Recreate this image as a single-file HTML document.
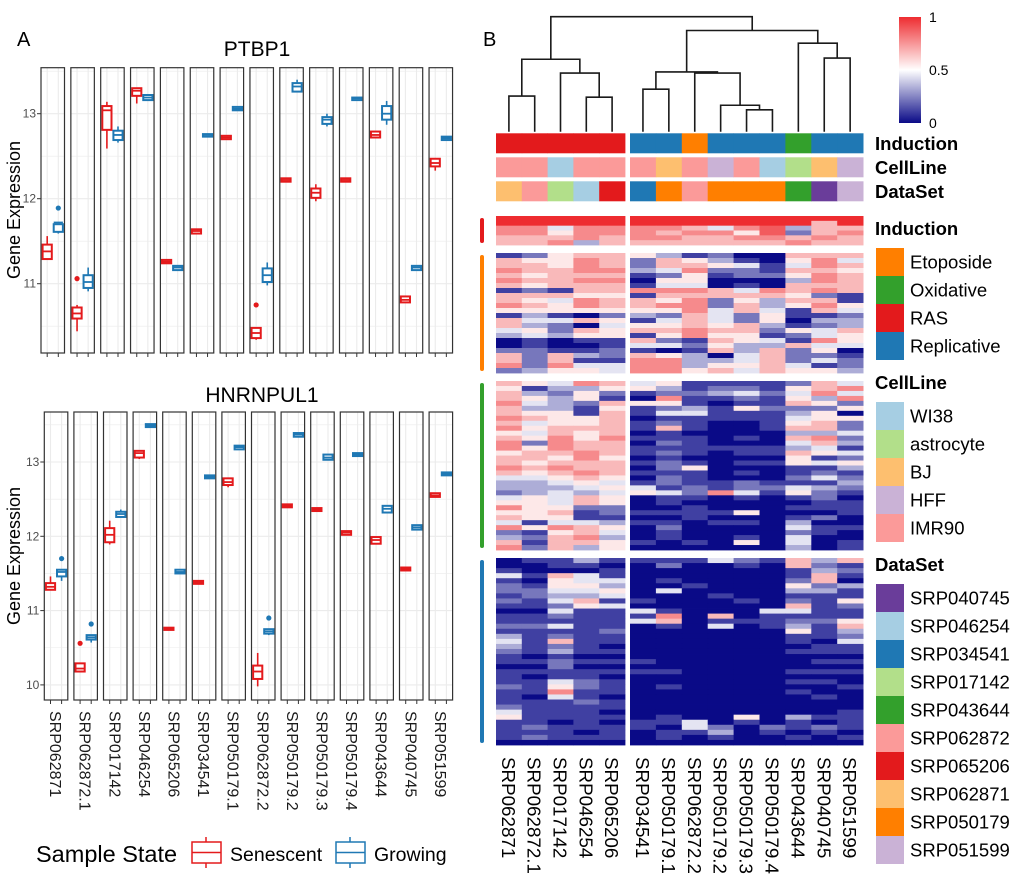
<!DOCTYPE html>
<html><head><meta charset="utf-8"><style>
html,body{margin:0;padding:0;background:#fff;}
svg{display:block;font-family:"Liberation Sans",Arial,sans-serif;}
</style></head><body>
<svg id="fig" width="1020" height="896" viewBox="0 0 1020 896" xmlns="http://www.w3.org/2000/svg">
<text x="17" y="46" font-size="20">A</text>
<text x="483" y="46" font-size="20">B</text>
<text x="257" y="56" font-size="21" text-anchor="middle">PTBP1</text>
<text x="262" y="402" font-size="21" text-anchor="middle">HNRNPUL1</text>
<text transform="translate(20,210) rotate(-90)" font-size="18" text-anchor="middle">Gene  Expression</text>
<text transform="translate(20,556) rotate(-90)" font-size="18" text-anchor="middle">Gene  Expression</text>
<g id="pa"></g>
<g id="hm"></g>
<g>
<text x="36" y="862" font-size="23.5">Sample State</text>
<g>
<line x1="206" y1="837" x2="206" y2="868" stroke="#e41a1c" stroke-width="1.5"/>
<rect x="192" y="842" width="29" height="21" fill="#fff" stroke="#e41a1c" stroke-width="1.5"/>
<line x1="192" y1="852.5" x2="221" y2="852.5" stroke="#e41a1c" stroke-width="1.5"/>
<text x="230" y="861" font-size="19.5">Senescent</text></g>
<g>
<line x1="350" y1="837" x2="350" y2="868" stroke="#1f78b4" stroke-width="1.5"/>
<rect x="336" y="842" width="29" height="21" fill="#fff" stroke="#1f78b4" stroke-width="1.5"/>
<line x1="336" y1="852.5" x2="365" y2="852.5" stroke="#1f78b4" stroke-width="1.5"/>
<text x="374" y="861" font-size="19.5">Growing</text></g>
</g>
</svg>
<script>
const NS="http://www.w3.org/2000/svg";
const samples=["SRP062871","SRP062872.1","SRP017142","SRP046254","SRP065206","SRP034541","SRP050179.1","SRP062872.2","SRP050179.2","SRP050179.3","SRP050179.4","SRP043644","SRP040745","SRP051599"];
// [lo,q1,med,q3,hi]
const ptbp1Sen=[[11.28,11.29,11.38,11.46,11.56],[10.44,10.59,10.65,10.72,10.75],[12.59,12.81,13.04,13.09,13.14],[13.12,13.21,13.27,13.30,13.30],[11.24,11.24,11.26,11.28,11.28],[11.59,11.59,11.62,11.64,11.64],[12.70,12.70,12.72,12.74,12.74],[10.34,10.36,10.42,10.48,10.48],[12.20,12.20,12.22,12.24,12.24],[11.97,12.01,12.07,12.12,12.17],[12.20,12.20,12.22,12.24,12.24],[12.72,12.72,12.75,12.79,12.79],[10.78,10.78,10.81,10.85,10.85],[12.33,12.38,12.42,12.47,12.47]];
const ptbp1Grow=[[11.59,11.61,11.72,11.70,11.70],[10.91,10.95,11.02,11.10,11.19],[12.66,12.69,12.75,12.80,12.85],[13.16,13.16,13.19,13.22,13.22],[11.16,11.16,11.19,11.21,11.21],[12.73,12.73,12.75,12.76,12.76],[13.04,13.04,13.06,13.08,13.08],[10.98,11.02,11.10,11.18,11.25],[13.25,13.26,13.32,13.36,13.40],[12.85,12.88,12.93,12.96,13.00],[13.16,13.16,13.18,13.19,13.19],[12.87,12.93,13.00,13.09,13.15],[11.16,11.16,11.19,11.21,11.21],[12.69,12.69,12.71,12.73,12.73]];
const ptbp1SenOut=[null,11.06,null,null,null,null,null,10.75,null,null,null,null,null,null];
const ptbp1GrowOut=[11.89,null,null,null,null,null,null,null,null,null,null,null,null,null];
const hnrSen=[[11.28,11.28,11.32,11.37,11.46],[10.18,10.18,10.22,10.29,10.29],[11.89,11.92,12.02,12.11,12.21],[13.04,13.06,13.12,13.15,13.15],[10.74,10.74,10.75,10.77,10.77],[11.36,11.36,11.38,11.40,11.40],[12.66,12.69,12.73,12.78,12.78],[9.98,10.08,10.18,10.26,10.43],[12.39,12.39,12.41,12.43,12.43],[12.34,12.34,12.36,12.38,12.38],[12.02,12.02,12.05,12.07,12.07],[11.90,11.90,11.95,11.99,11.99],[11.54,11.54,11.56,11.58,11.58],[12.53,12.53,12.55,12.58,12.58]];
const hnrGrow=[[11.40,11.46,11.52,11.55,11.55],[10.57,10.61,10.64,10.67,10.67],[12.26,12.26,12.30,12.33,12.36],[13.47,13.47,13.49,13.51,13.51],[11.50,11.50,11.52,11.55,11.55],[12.78,12.78,12.80,12.82,12.82],[13.17,13.17,13.20,13.22,13.22],[10.67,10.69,10.72,10.75,10.75],[13.34,13.34,13.37,13.39,13.39],[13.03,13.03,13.06,13.10,13.10],[13.08,13.08,13.10,13.12,13.12],[12.32,12.32,12.37,12.41,12.41],[12.09,12.09,12.12,12.15,12.15],[12.82,12.82,12.84,12.86,12.86]];
const hnrSenOut=[null,10.56,null,null,null,null,null,null,null,null,null,null,null,null];
const hnrGrowOut=[11.70,10.82,null,null,null,null,null,10.90,null,null,null,null,null,null];
const ptbp1Ticks=[11,12,13];
const hnrTicks=[10,11,12,13];

function el(tag,attrs,parent){const e=document.createElementNS(NS,tag);for(const k in attrs)e.setAttribute(k,attrs[k]);parent.appendChild(e);return e;}
const pa=document.getElementById('pa');
function panel(name,sen,grow,senOut,growOut,ticks,x0,pitch,top,bottom,yRef,vRef,ppu,minV,maxV,labels){
  const g=el('g',{},pa);
  
  
  const y=v=>yRef-(v-vRef)*ppu;
  const W=23.5;
  sen.forEach((s,i)=>{
    const fx=x0+i*pitch;
    const fg=el('g',{},g);
    
    
    const xs=fx+6.2, xg=fx+17.3;
    for(let v=Math.ceil(minV*2)/2;v<=maxV;v+=0.5){
      const major=Math.abs(v-Math.round(v))<0.01;
      el('line',{x1:fx,x2:fx+W,y1:y(v),y2:y(v),stroke:'#ebebeb','stroke-width':major?1.1:0.6},fg);
    }
    [xs,xg].forEach(xx=>el('line',{x1:xx,x2:xx,y1:top,y2:bottom,stroke:'#ebebeb','stroke-width':1.1},fg));
    [[s,xs,'#e41a1c',senOut[i],'senescent'],[grow[i],xg,'#1f78b4',growOut[i],'growing']].forEach(([d,xx,c,o,lab])=>{
      const bg=el('g',{},fg);
      
      
      el('line',{x1:xx,x2:xx,y1:y(d[4]),y2:y(d[0]),stroke:c,'stroke-width':1.6},bg);
      const h=Math.max(y(d[1])-y(d[3]),2);
      el('rect',{x:xx-4.6,y:y(d[3]),width:9.2,height:h,fill:'#fff',stroke:c,'stroke-width':2},bg);
      el('line',{x1:xx-4.6,x2:xx+4.6,y1:y(d[2]),y2:y(d[2]),stroke:c,'stroke-width':1.8},bg);
      if(o!=null){const p=el('circle',{cx:xx,cy:y(o),r:2.6,fill:c},bg);
        
        }
    });
    el('rect',{x:fx,y:top,width:W,height:bottom-top,fill:'none',stroke:'#333','stroke-width':1.2},fg);
    [xs,xg].forEach(xx=>el('line',{x1:xx,x2:xx,y1:bottom,y2:bottom+4,stroke:'#333','stroke-width':1},fg));
    if(labels){const t=el('text',{transform:`translate(${fx+W/2-6},${bottom+11}) rotate(90)`,'font-size':16,fill:'#1a1a1a'},fg);
      t.textContent=samples[i];
      
      }
  });
  ticks.forEach(t=>{
    el('line',{x1:x0-4,x2:x0,y1:y(t),y2:y(t),stroke:'#333'},g);
    const tx=el('text',{x:x0-5,y:y(t)+4,'font-size':12,'text-anchor':'end',fill:'#4d4d4d'},g);
    tx.textContent=t;
    
    
  });
}
panel('ptbp1',ptbp1Sen,ptbp1Grow,ptbp1SenOut,ptbp1GrowOut,ptbp1Ticks,41,29.85,67.7,353,113.7,13,85,10.19,13.54,false);
panel('hnrnpul1',hnrSen,hnrGrow,hnrSenOut,hnrGrowOut,hnrTicks,44.3,29.6,412,700,462,13,74.3,9.8,13.67,true);

// Heatmap data
const inductionAnn=["RAS","RAS","RAS","RAS","RAS","Replicative","Replicative","Etoposide","Replicative","Replicative","Replicative","Oxidative","Replicative","Replicative"];
const cellLineAnn=["IMR90","IMR90","WI38","IMR90","IMR90","IMR90","BJ","IMR90","HFF","IMR90","WI38","astrocyte","BJ","HFF"];
const dataSetAnn=["SRP062871","SRP062872","SRP017142","SRP046254","SRP065206","SRP034541","SRP050179","SRP062872","SRP050179","SRP050179","SRP050179","SRP043644","SRP040745","SRP051599"];
const inductionColors={Etoposide:"#ff7f00",Oxidative:"#33a02c",RAS:"#e31a1c",Replicative:"#1f78b4"};
const cellLineColors={WI38:"#a6cee3",astrocyte:"#b2df8a",BJ:"#fdbf6f",HFF:"#cab2d6",IMR90:"#fb9a99"};
const dataSetColors={SRP040745:"#6a3d9a",SRP046254:"#a6cee3",SRP034541:"#1f78b4",SRP017142:"#b2df8a",SRP043644:"#33a02c",SRP062872:"#fb9a99",SRP065206:"#e31a1c",SRP062871:"#fdbf6f",SRP050179:"#ff7f00",SRP051599:"#cab2d6"};
const clusterRed=["99999999999999","99999999999969","77477776478366","77577767758267","66676776677676","66736666666766"];
const clusterOrange=["12566531200666","65576265310574","66576266541476","76677347221665","65666125122576","76677055000376","65666144010666","12166777647676","66655166666521","65476657253661","76576677263575","55555557464164","13102326425112","64465146425033","63204556563123","45265667662546","34355157551245","01011621654175","01001442533644","22112101636250","62632653046221","62611773346242","72744773556412","23554775646553"];
const clusterGreen=["65476451111264","51335531221567","63252122342474","65351071121537","74326551011652","63315123152225","65516144111350","76556011111455","64556121001562","75666161001662","54656010000334","65757111010672","72766021000463","75766111111341","56676121011654","66575010000512","65666121011545","76766025000113","65676111010121","44565021000242","33454121121113","33345412122432","23434542741521","45465011010120","55465010000011","75522001000111","55612111150001","65511001000120","41443110110300","75765020000411","21564010000210","32673010010400","61665101050401","72635000000301"];
const clusterBlue=["01131111421636","00110020010621","10001000000132","41641000000161","10544010000260","21553001000523","22445040000331","12334000100111","21461100010215","11254000000612","00411410004411","11211170601111","11111460111225","22411010401316","11112000000513","31211000000112","41611000000104","31210000000011","21311000000111","10100000000000","11211100000011","00200000000000","11111110000111","10110000000000","11421000000110","21521010000001","11711000000100","10410000000010","11121000000000","21111000000000","41110000000001","51111010050311","11010114010101","12111104202121","11101011301010","12111010100101","00000000000000"];
const colorbarTicks=[0,0.5,1];
const dendroMerges=[[0,1,0.31],[3,4,0.30],[2,"m1",0.51],["m0","m2",0.63],[5,6,0.37],[9,10,0.19],[8,"m5",0.23],[7,"m6",0.51],["m4","m7",0.52],[12,13,0.64],[11,"m9",0.77],["m8","m10",0.88],["m3","m11",1.0]];

const hm=document.getElementById('hm');
const colX=i=> i<5 ? 496+i*25.8 : 630+(i-5)*25.9;
const colW=i=> i<5 ? 25.8 : 25.9;
const colC=i=> colX(i)+colW(i)/2;
function valColor(v){
  const navy=[10,10,135], red=[238,44,48];
  let c;
  if(v<0.5){const t=v/0.5;c=navy.map((a,k)=>a+(255-a)*t);} else {const t=(v-0.5)/0.5;c=red.map((a,k)=>255+(a-255)*t);}
  return `rgb(${c.map(Math.round).join(',')})`;
}
const dg=el('g',{fill:'none',stroke:'#1a1a1a','stroke-width':1.6},hm);


const dBase=131.7, dTop=16.7;
const dy=h=>dBase-h*(dBase-dTop);
const nodes={};
function nodePos(n){return typeof n==='number'?{x:colC(n),y:dBase}:nodes[n];}
dendroMerges.forEach((m,i)=>{
  const a=nodePos(m[0]), b=nodePos(m[1]), yy=dy(m[2]);
  el('path',{d:`M${a.x},${a.y}V${yy}H${b.x}V${b.y}`},dg);
  nodes['m'+i]={x:(a.x+b.x)/2,y:yy};
});
[[inductionAnn,inductionColors,133.3,'induction'],[cellLineAnn,cellLineColors,157.3,'cellline'],[dataSetAnn,dataSetColors,181.3,'dataset']].forEach(([arr,cols,yy,nm])=>{
  const g=el('g',{},hm);
  
  
  arr.forEach((v,i)=>{const r=el('rect',{x:colX(i),y:yy,width:colW(i)+0.4,height:20,fill:cols[v]},g);
    
    });
});
[[clusterRed,216,245,'#e31a1c','red'],[clusterOrange,253,373,'#ff7f00','orange'],[clusterGreen,381,550,'#33a02c','green'],[clusterBlue,558,745,'#1f78b4','blue']].forEach(([rows,y0,y1,c,nm])=>{
  const g=el('g',{},hm);
  
  
  const rh=(y1-y0)/rows.length;
  rows.forEach((r,ri)=>{
    for(let i=0;i<14;i++){
      const v=parseInt(r[i])/9;
      const cell=el('rect',{x:colX(i),y:y0+ri*rh,width:colW(i)+0.4,height:rh+0.4,fill:valColor(v)},g);
      
      
    }
  });
  const bar=el('rect',{x:480,y:y0+2,width:4,height:y1-y0-4,rx:2,fill:c},hm);
  
  
});
samples.forEach((s,i)=>{
  const t=el('text',{transform:`translate(${colC(i)-7},${757}) rotate(90)`,'font-size':18.8,fill:'#000'},hm);
  t.textContent=s;
  
  
});
const defs=el('defs',{},hm);
const lg=el('linearGradient',{id:'cb',x1:0,y1:1,x2:0,y2:0},defs);
[0,0.25,0.5,0.75,1].forEach(v=>el('stop',{offset:v,'stop-color':valColor(v)},lg));
const cb=el('rect',{x:899,y:17,width:22,height:106,fill:'url(#cb)'},hm);


colorbarTicks.forEach(v=>{const t=el('text',{x:929,y:123-v*106+5,'font-size':14},hm);
  t.textContent=String(v);
  
  });
[["Induction",150],["CellLine",174],["DataSet",198]].forEach(([n,yy])=>{
  const t=el('text',{x:875,y:yy,'font-size':18.5,'font-weight':'bold'},hm);
  t.textContent=n;
  
  
});
function legend(title,cols,ty){
  const g=el('g',{},hm);
  
  
  const t=el('text',{x:875,y:ty,'font-size':18.5,'font-weight':'bold'},g);
  t.textContent=title;
  Object.keys(cols).forEach((k,i)=>{
    const yy=ty+13+i*28;
    const e=el('g',{},g);
    
    
    el('rect',{x:876,y:yy,width:28,height:28,fill:cols[k]},e);
    const lt=el('text',{x:910,y:yy+20.5,'font-size':18.5},e);
    lt.textContent=k;
  });
}
legend('Induction',inductionColors,235);
legend('CellLine',cellLineColors,389);
legend('DataSet',dataSetColors,571);
</script>
</body></html>
